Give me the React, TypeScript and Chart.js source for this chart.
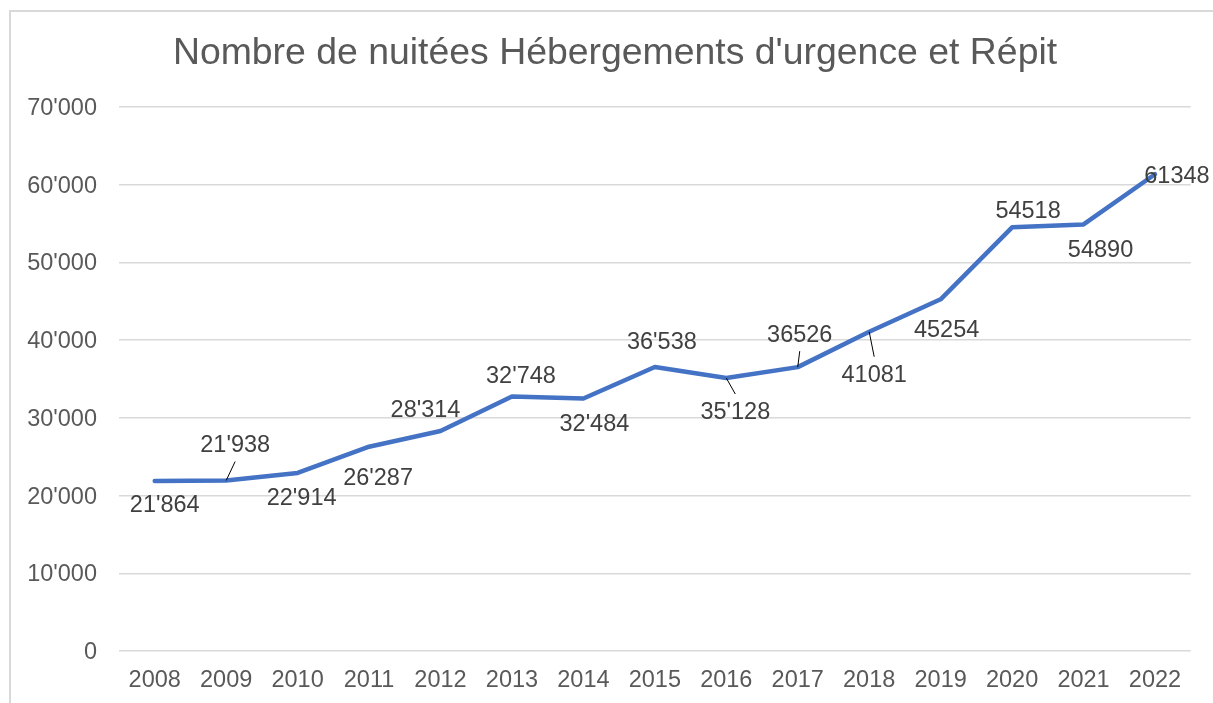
import { useEffect, useRef } from "react";
import { Chart, registerables } from "chart.js";

Chart.register(...registerables);

const years = ["2008", "2009", "2010", "2011", "2012", "2013", "2014", "2015", "2016", "2017", "2018", "2019", "2020", "2021", "2022"];
const nights = [21864, 21938, 22914, 26287, 28314, 32748, 32484, 36538, 35128, 36526, 41081, 45254, 54518, 54890, 61348];
const labelTexts = ["21'864", "21'938", "22'914", "26'287", "28'314", "32'748", "32'484", "36'538", "35'128", "36526", "41081", "45254", "54518", "54890", "61348"];
const yMax = 70000;
const yStep = 10000;
const titleText = "Nombre de nuitées Hébergements d'urgence et Répit";

// label placement (dx, dy in px from the point, leader line flag)
const labelPlacement: [number, number, boolean][] = [
  [10, 23, false],
  [9, -36, true],
  [4, 24, false],
  [9, 30, false],
  [-15, -22, false],
  [9, -21, false],
  [11, 24, false],
  [7, -26, false],
  [9, 33, true],
  [2, -33, true],
  [5, 42, true],
  [6, 30, false],
  [16, -17, false],
  [17, 25, false],
  [22, 1, false],
];

const FONT = "'Liberation Sans', Arial, sans-serif";

const fmt = (v: number) => {
  const s = Math.round(v).toString();
  return s.replace(/\B(?=(\d{3})+(?!\d))/g, "'");
};

const titlePlugin = {
  id: "customTitle",
  afterDraw(chart: any) {
    const ctx = chart.ctx;
    ctx.save();
    ctx.font = `37.4px ${FONT}`;
    ctx.fillStyle = "#595959";
    ctx.textAlign = "center";
    ctx.textBaseline = "middle";
    ctx.fillText(titleText, 615, 54);
    ctx.restore();
  },
};

const labelPlugin = {
  id: "pointLabels",
  afterDatasetsDraw(chart: any) {
    const ctx = chart.ctx;
    const meta = chart.getDatasetMeta(0);
    ctx.save();
    ctx.font = `23.5px ${FONT}`;
    ctx.fillStyle = "#404040";
    ctx.textAlign = "center";
    ctx.textBaseline = "middle";
    meta.data.forEach((pt: any, i: number) => {
      const [dx, dy, leader] = labelPlacement[i];
      const lx = pt.x + dx;
      const ly = pt.y + dy;
      if (leader) {
        ctx.beginPath();
        ctx.strokeStyle = "#000000";
        ctx.lineWidth = 1;
        ctx.moveTo(pt.x, pt.y);
        ctx.lineTo(lx, ly - Math.sign(dy) * 17);
        ctx.stroke();
      }
      ctx.fillText(labelTexts[i], lx, ly + 1.5);
    });
    ctx.restore();
  },
};

export default function App() {
  const ref = useRef<HTMLCanvasElement | null>(null);
  useEffect(() => {
    if (!ref.current) return;
    const chart = new Chart(ref.current, {
      type: "line",
      data: {
        labels: years,
        datasets: [
          {
            data: nights,
            borderColor: "#4472C4",
            backgroundColor: "#4472C4",
            borderWidth: 4.5,
            pointRadius: 0,
            tension: 0,
            borderCapStyle: "round",
            borderJoinStyle: "round",
          },
        ],
      },
      options: {
        responsive: false,
        animation: false,
        layout: { padding: { left: 0, right: 22.3, top: 107, bottom: 0 } },
        plugins: {
          legend: { display: false },
          tooltip: { enabled: false },
          title: { display: false },
        },
        scales: {
          x: {
            offset: true,
            grid: { display: false, drawTicks: false },
            border: { display: false },
            ticks: {
              color: "#595959",
              font: { family: FONT, size: 23.5 },
              padding: 15,
              maxRotation: 0,
              autoSkip: false,
            },
            afterFit: (s: any) => {
              s.height = 52;
            },
          },
          y: {
            min: 0,
            max: yMax,
            grid: { color: "#d9d9d9", lineWidth: 1.5, drawTicks: false },
            border: { display: false },
            ticks: {
              stepSize: yStep,
              color: "#595959",
              font: { family: FONT, size: 23.5 },
              padding: 22,
              labelOffset: 1.5,
              callback: (v: any) => fmt(Number(v)),
            },
            afterFit: (s: any) => {
              s.width = 119;
            },
          },
        },
      },
      plugins: [labelPlugin, titlePlugin],
    });
    return () => chart.destroy();
  }, []);

  return (
    <div style={{ position: "fixed", left: 0, top: 0, width: 1213, height: 703, overflow: "hidden", background: "#fff" }}>
      <canvas ref={ref} width={1213} height={703} style={{ position: "absolute", left: 0, top: 0, display: "block" }} />
      <div
        style={{
          position: "absolute",
          left: 9,
          top: 10,
          width: 1400,
          height: 900,
          borderLeft: "2px solid #d9d9d9",
          borderTop: "2px solid #d9d9d9",
          pointerEvents: "none",
        }}
      />
    </div>
  );
}
